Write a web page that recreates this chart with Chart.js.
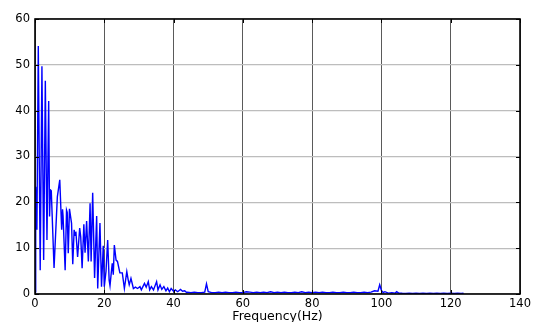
<!DOCTYPE html>
<html>
<head>
<meta charset="utf-8">
<script src="https://cdn.jsdelivr.net/npm/chart.js@4.4.1/dist/chart.umd.min.js"></script>
<style>
html,body{margin:0;padding:0;background:#fff;}
#wrap{width:538px;height:322px;position:relative;}
</style>
</head>
<body>
<div id="wrap"><canvas id="c" width="538" height="322"></canvas></div>
<script>
// Frequency (Hz) of each vertex of the spectrum trace
const freqHz = [
  0, 0.2, 0.55, 0.95, 1.5, 2.0, 2.5, 2.98, 3.45, 3.95,
  4.2, 4.45, 4.7, 5.5, 6.45, 7.15, 7.7, 7.95, 8.1, 8.7,
  9.1, 9.3, 9.6, 9.95, 10.55, 10.9, 11.3, 11.55, 11.8, 12.3,
  12.9, 13.2, 13.6, 14.1, 14.45, 14.9, 15.4, 15.9, 16.2, 16.65,
  17.2, 17.8, 18.1, 18.75, 19.2, 19.7, 20.0, 20.5, 20.98, 21.4,
  21.65, 22.0, 22.3, 22.6, 22.9, 23.4, 23.8, 24.5, 25.2, 25.8,
  26.5, 26.9, 27.2, 27.7, 28.4, 29.0, 29.6, 30.3, 30.7, 31.6,
  32.1, 32.7, 33.1, 33.6, 34.2, 35.1, 35.5, 36.1, 36.6, 37.2,
  37.8, 38.3, 38.8, 39.3, 40.0, 40.5, 41.2, 42.0, 42.6, 43.2,
  43.8, 44, 45, 46, 47, 48, 49, 49.5, 50, 51,
  52, 53, 54, 55, 56, 57, 58, 59, 60, 61,
  62, 63, 64, 65, 66, 67, 68, 69, 70, 71,
  72, 73, 74, 75, 76, 77, 78, 79, 80, 81,
  82, 83, 84, 85, 86, 87, 88, 89, 90, 91,
  92, 93, 94, 95, 96, 97, 98, 99, 99.5, 100,
  100.5, 101, 102, 103, 104, 104.4, 105, 106, 107, 108,
  109, 110, 111, 112, 113, 114, 115, 116, 117, 118,
  119, 120, 121, 122, 123, 123.7
];
// Amplitude read at each vertex
const amplitude = [
  0.5, 23.4, 14, 54.1, 5.2, 49.7, 7.4, 46.5, 11.8, 42.1,
  16.9, 22.7, 22.5, 5.7, 21.2, 24.9, 14, 18.5, 17, 5.2,
  18.3, 17.8, 8.9, 18.6, 15.4, 6.5, 14, 12.8, 13.6, 8.1,
  14.4, 12.5, 5.6, 15.2, 9, 15.9, 7.1, 19.8, 7.1, 22.1,
  3.5, 17.0, 1.2, 15.5, 1.6, 10.5, 1.6, 5.0, 11.8, 3.0,
  1.8, 4.5, 6.7, 4.2, 10.7, 7.4, 7.1, 4.6, 4.6, 1.2,
  4.9, 3.1, 2.0, 3.4, 1.2, 1.5, 1.2, 1.6, 0.9, 2.3,
  1.5, 2.7, 0.9, 1.6, 0.9, 2.7, 0.9, 2.0, 1.0, 1.6,
  0.7, 1.3, 0.5, 1.2, 0.6, 0.9, 0.5, 1.0, 0.6, 0.7,
  0.3, 0.4, 0.3, 0.4, 0.3, 0.3, 0.4, 2.2, 0.5, 0.3,
  0.3, 0.4, 0.3, 0.4, 0.3, 0.3, 0.4, 0.3, 0.3, 0.5,
  0.4, 0.3, 0.4, 0.3, 0.4, 0.3, 0.5, 0.3, 0.4, 0.3,
  0.4, 0.3, 0.3, 0.4, 0.3, 0.5, 0.3, 0.4, 0.3, 0.4,
  0.3, 0.4, 0.3, 0.3, 0.4, 0.3, 0.3, 0.4, 0.3, 0.3,
  0.4, 0.3, 0.3, 0.4, 0.3, 0.4, 0.7, 0.6, 2.0, 0.8,
  0.3, 0.5, 0.2, 0.3, 0.2, 0.5, 0.2, 0.15, 0.12, 0.15,
  0.12, 0.15, 0.12, 0.15, 0.12, 0.15, 0.12, 0.15, 0.12, 0.15,
  0.12, 0.15, 0.12, 0.15, 0.12, 0.15
];
const xTicks = [0, 20, 40, 60, 80, 100, 120, 140];
const yTicks = [0, 10, 20, 30, 40, 50, 60];
const xTitle = 'Frequency(Hz)';

const points = freqHz.map((f, i) => ({x: f, y: amplitude[i]}));

const boxPlugin = {
  id: 'matlabBox',
  afterDraw(chart) {
    const {ctx, chartArea: a, scales} = chart;
    ctx.save();
    ctx.strokeStyle = '#000';
    ctx.lineWidth = 1;
    const tl = 4;
    ctx.beginPath();
    xTicks.forEach(v => {
      const px = Math.round(scales.x.getPixelForValue(v)) + 0.5;
      ctx.moveTo(px, a.bottom); ctx.lineTo(px, a.bottom - tl);
      ctx.moveTo(px, a.top); ctx.lineTo(px, a.top + tl);
    });
    yTicks.forEach(v => {
      const py = Math.round(scales.y.getPixelForValue(v)) + 0.5;
      ctx.moveTo(a.left, py); ctx.lineTo(a.left + tl, py);
      ctx.moveTo(a.right, py); ctx.lineTo(a.right - tl, py);
    });
    ctx.stroke();
    ctx.lineWidth = 1.6;
    ctx.strokeRect(a.left, a.top, a.right - a.left, a.bottom - a.top);
    ctx.restore();
  }
};

new Chart(document.getElementById('c'), {
  type: 'line',
  data: {
    datasets: [{
      data: points,
      borderColor: '#0000ff',
      borderWidth: 1.4,
      pointRadius: 0,
      fill: false,
      tension: 0
    }]
  },
  options: {
    responsive: false,
    animation: false,
    layout: {padding: {left: 0, right: 18, top: 19, bottom: 0}},
    plugins: {legend: {display: false}, tooltip: {enabled: false}},
    scales: {
      x: {
        type: 'linear',
        min: 0, max: 140,
        afterBuildTicks: s => { s.ticks = xTicks.map(v => ({value: v})); },
        afterFit: s => { s.height = 28; },
        grid: {color: '#5a5a5a', lineWidth: 1, drawTicks: false},
        border: {display: false},
        ticks: {color: '#000', padding: 3, maxRotation: 0, font: {family: 'DejaVu Sans', size: 11.5}},
        title: {display: true, text: xTitle, color: '#000', padding: {top: 0, bottom: -2}, font: {family: 'DejaVu Sans', size: 12.5}}
      },
      y: {
        type: 'linear',
        min: 0, max: 60,
        afterBuildTicks: s => { s.ticks = yTicks.map(v => ({value: v})); },
        afterFit: s => { s.width = 35; },
        grid: {color: '#bdbdbd', lineWidth: 1.3, drawTicks: false},
        border: {display: false},
        ticks: {color: '#000', padding: 5, font: {family: 'DejaVu Sans', size: 11.5}}
      }
    }
  },
  plugins: [boxPlugin]
});
</script>
</body>
</html>
